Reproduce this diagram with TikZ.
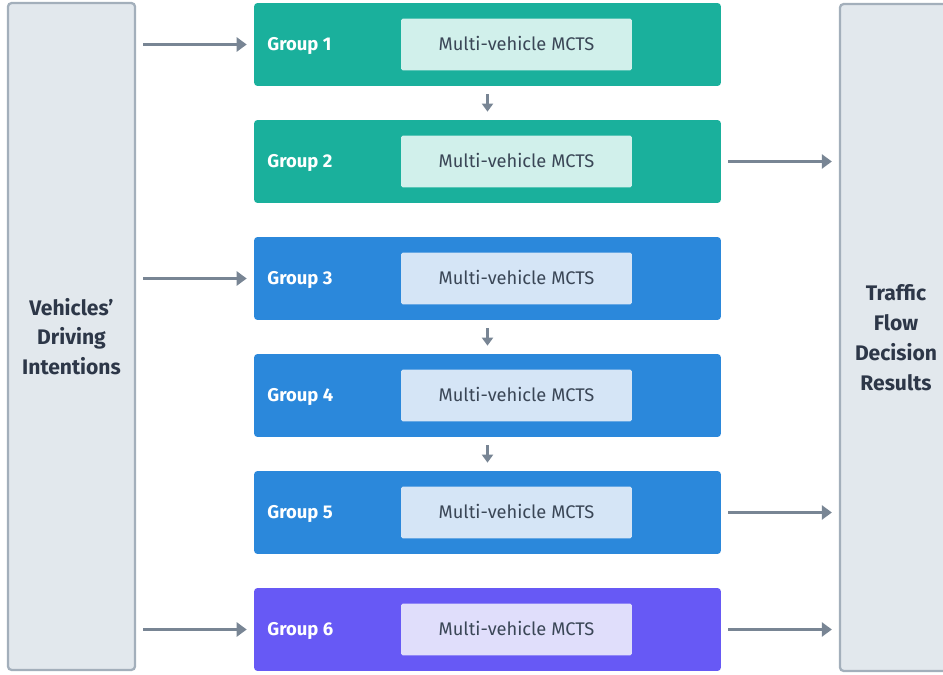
\documentclass[tikz,border=0pt]{standalone}
\usepackage{fontspec}
\setmainfont{Fira Sans}
\usetikzlibrary{arrows.meta}
\definecolor{teal}{HTML}{1AB09C}
\definecolor{tealin}{HTML}{D1F0EB}
\definecolor{blue}{HTML}{2B88DB}
\definecolor{bluein}{HTML}{D5E5F6}
\definecolor{purple}{HTML}{6759F5}
\definecolor{purplein}{HTML}{E0DEFB}
\definecolor{sidefill}{HTML}{E2E8ED}
\definecolor{sideline}{HTML}{A3AFBB}
\definecolor{arrowgray}{HTML}{788594}
\definecolor{darktext}{HTML}{2D3748}
\definecolor{mcttext}{HTML}{3A4656}
\tikzset{
  side/.style={draw=sideline, fill=sidefill, line width=1.3pt, rounded corners=2pt,
    minimum height=13.34cm, align=center, font=\fontsize{12}{17}\selectfont\bfseries, text=darktext},
  grp/.style={rounded corners=2pt, minimum width=9.34cm, minimum height=1.66cm, inner sep=0pt},
  mcts/.style={rounded corners=1pt, minimum width=4.62cm, minimum height=1.04cm, inner sep=0pt,
    text height=0.25cm, text depth=0pt, font=\fontsize{10.4}{12}\selectfont, text=mcttext},
  glabel/.style={anchor=west, inner sep=0pt, text height=0.25cm, text depth=0pt,
    text=white, font=\fontsize{10.5}{12}\selectfont\bfseries},
  arr/.style={draw=arrowgray, line width=2.2pt, -{Triangle[length=0.2cm, width=0.28cm]}},
  darr/.style={draw=arrowgray, line width=1.8pt, -{Triangle[length=0.16cm, width=0.22cm]}}
}

\begin{document}
\begin{tikzpicture}[x=0.02cm, y=-0.02cm]
    \useasboundingbox (0,0) rectangle (943,675);
    % side columns
    \node[side, minimum width=2.54cm] (vdi) at (71.5,336.5) {Vehicles'\\Driving\\Intentions};
    \node[side, minimum width=2.24cm] (tfr) at (896,337.5) {Traffic\\Flow\\Decision\\Results};
    % groups
    \foreach \i/\c in {1/teal,2/teal,3/blue,4/blue,5/blue,6/purple}{
        \node[grp, fill=\c] (g\i) at (487.5,{44.5+117*(\i-1)}) {};
        \node[mcts, fill=\c in] (m\i) at (516.5,{44.5+117*(\i-1)}) {Multi-vehicle MCTS};
        \node[glabel] (l\i) at (267,{44.5+117*(\i-1)}) {Group \i};
    }
    % inputs and outputs
    \foreach \i in {1,3,6}{
        \draw[arr, shorten <=0.14cm, shorten >=0.14cm] (vdi.east |- g\i.west) -- (g\i.west);
    }
    \foreach \i in {2,5,6}{
        \draw[arr, shorten <=0.14cm, shorten >=0.14cm] (g\i.east) -- (tfr.west |- g\i.east);
    }
    % hand-over between groups
    \foreach \a/\b in {1/2,3/4,4/5}{
        \draw[darr, shorten <=0.16cm, shorten >=0.16cm] (g\a.south) -- (g\b.north);
    }
\end{tikzpicture}
\end{document}
